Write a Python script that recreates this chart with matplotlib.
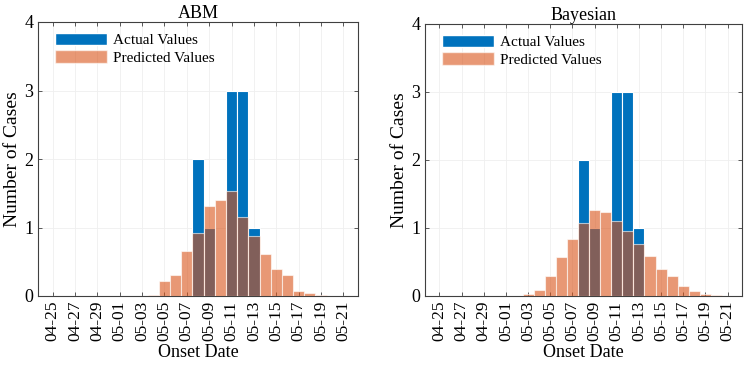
import matplotlib
matplotlib.use("Agg")
import matplotlib.pyplot as plt
import numpy as np
import pandas as pd
from matplotlib.patches import Patch

plt.rcParams['font.family'] = ['Liberation Serif', 'DejaVu Serif']

dates = [d.strftime('%m-%d') for d in pd.date_range('2020-04-25', '2020-05-21', freq='D')]
actual = [0, 0, 0, 0, 0, 0, 0, 0, 0, 0, 0, 0, 0, 2, 1, 0, 3, 3, 1, 0, 0, 0, 0, 0, 0, 0, 0]
pred_abm = [0, 0, 0, 0, 0, 0, 0, 0, 0.003, 0.01, 0.22, 0.30, 0.66, 0.92, 1.31, 1.40, 1.53,
            1.16, 0.88, 0.61, 0.39, 0.30, 0.08, 0.045, 0.01, 0.005, 0.003]
pred_bayes = [0, 0, 0, 0, 0, 0, 0, 0, 0.035, 0.09, 0.30, 0.57, 0.84, 1.08, 1.26, 1.23, 1.11,
              0.96, 0.77, 0.59, 0.40, 0.29, 0.14, 0.07, 0.035, 0.015, 0.005]
titles = ['ABM', 'Bayesian']
preds = [pred_abm, pred_bayes]

blue = '#0072BD'
orange = '#D95319'

fig = plt.figure(figsize=(7.44, 3.65), dpi=100)
rects = [[38/744, 69/365, 320/744, 274/365], [425/744, 69/365, 317/744, 272/365]]
x = np.arange(len(dates))
for rect, title, pred in zip(rects, titles, preds):
    ax = fig.add_axes(rect)
    ax.bar(x, actual, width=1.0, color=blue, edgecolor='white', linewidth=0.8, zorder=2)
    ax.bar(x, pred, width=1.0, color=orange, alpha=0.6, edgecolor='white', linewidth=0.8, zorder=3)
    ax.set_xlim(-1.3, len(dates) - 1 + 1.3)
    ax.set_ylim(0, 4)
    ax.set_yticks([0, 1, 2, 3, 4])
    ax.set_xticks(x[::2])
    ax.set_xticklabels(dates[::2], rotation=90, fontsize=12.5)
    ax.tick_params(axis='y', labelsize=13)
    ax.tick_params(direction='in', top=True, right=True, length=3, color='#404040', width=0.6)
    ax.grid(True, color='#efefef', linewidth=0.6, zorder=0)
    ax.set_axisbelow(True)
    for s in ax.spines.values():
        s.set_color('#404040')
        s.set_linewidth(0.8)
    ax.set_title(title, fontsize=13, pad=3)
    ax.set_xlabel('Onset Date', fontsize=13, labelpad=2)
    ax.set_ylabel('Number of Cases', fontsize=14, labelpad=2)
    handles = [Patch(facecolor=blue, edgecolor='white'),
               Patch(facecolor=orange, alpha=0.6, edgecolor='white')]
    ax.legend(handles, ['Actual Values', 'Predicted Values'], loc='upper left',
              frameon=False, fontsize=11, handlelength=3.4, handleheight=0.9,
              handletextpad=0.4, labelspacing=0.2, borderaxespad=0.3,
              bbox_to_anchor=(0.02, 1.0))

fig.savefig('out.png', dpi=100)
